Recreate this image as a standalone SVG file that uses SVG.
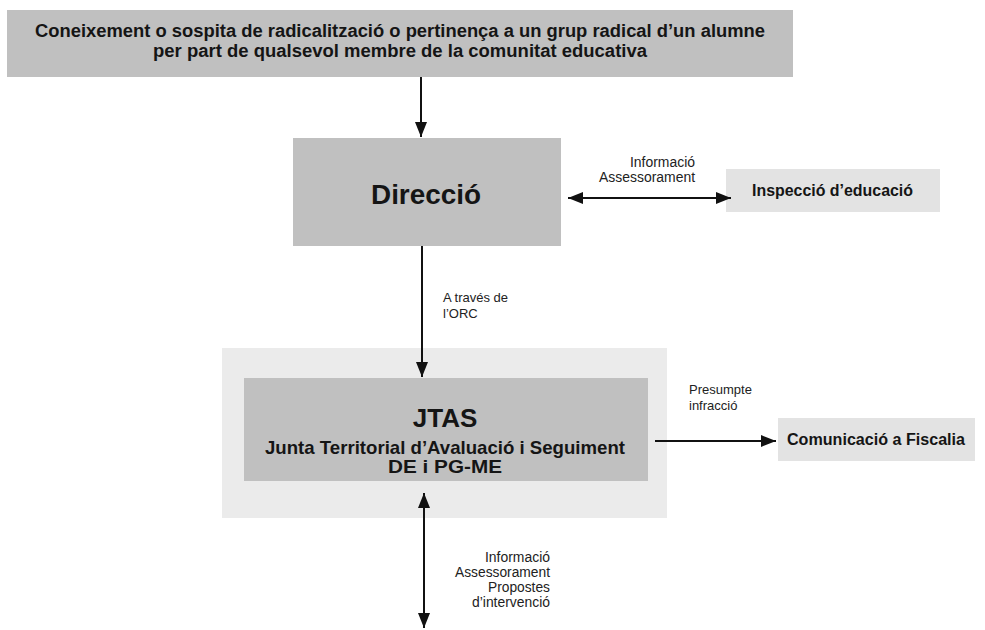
<svg xmlns="http://www.w3.org/2000/svg" width="985" height="630" viewBox="0 0 985 630">
<defs>
<marker id="ah" markerUnits="userSpaceOnUse" markerWidth="16" markerHeight="12" refX="15" refY="6" orient="auto-start-reverse">
<path d="M0,0 L15,6 L0,12 Z" fill="#111"/>
</marker>
<style>
.box{fill:#c0c0c0}
.lt{fill:#e3e3e3}
.b{font-family:"Liberation Sans",Arial,sans-serif;font-weight:bold;fill:#151515}
.s{font-family:"Liberation Sans",Arial,sans-serif;font-size:13px;fill:#222}
.n{font-family:"Liberation Sans",Arial,sans-serif;font-size:14px;fill:#222}
.ln{stroke:#111;stroke-width:2;fill:none}
</style>
</defs>
<rect width="985" height="630" fill="#fff"/>
<g id="origen">
<rect class="box" x="7" y="10" width="786" height="67"/>
<text class="b" font-size="17.5" text-anchor="middle" x="400" y="37" textLength="730" lengthAdjust="spacingAndGlyphs">Coneixement o sospita de radicalització o pertinença a un grup radical d’un alumne</text>
<text class="b" font-size="17.5" text-anchor="middle" x="400" y="57" textLength="494" lengthAdjust="spacingAndGlyphs">per part de qualsevol membre de la comunitat educativa</text>
</g>
<g id="direccio">
<rect class="box" x="293" y="138" width="268" height="108"/>
<text class="b" font-size="28" text-anchor="middle" x="426" y="204" textLength="110" lengthAdjust="spacingAndGlyphs">Direcció</text>
</g>
<g id="inspeccio">
<rect class="lt" x="726" y="169" width="214" height="43"/>
<text class="b" font-size="16" x="752" y="196" textLength="161" lengthAdjust="spacingAndGlyphs">Inspecció  d’educació</text>
</g>
<g id="jtas">
<rect x="222" y="348" width="445" height="170" fill="#ebebeb"/>
<rect class="box" x="244" y="378" width="404" height="103"/>
<text class="b" font-size="26" text-anchor="middle" x="445" y="427">JTAS</text>
<text class="b" font-size="19" text-anchor="middle" x="445" y="454" textLength="360" lengthAdjust="spacingAndGlyphs">Junta Territorial d’Avaluació i Seguiment</text>
<text class="b" font-size="19" text-anchor="middle" x="445" y="473" textLength="114" lengthAdjust="spacingAndGlyphs">DE i PG-ME</text>
</g>
<g id="fiscalia">
<rect class="lt" x="778" y="418" width="197" height="43"/>
<text class="b" font-size="16" x="787" y="445" textLength="178" lengthAdjust="spacingAndGlyphs">Comunicació a Fiscalia</text>
</g>
<g id="connectors">
<line class="ln" x1="421" y1="77" x2="421" y2="137" marker-end="url(#ah)"/>
<line class="ln" x1="568" y1="198" x2="731" y2="198" marker-start="url(#ah)" marker-end="url(#ah)"/>
<line class="ln" x1="422" y1="246" x2="422" y2="377" marker-end="url(#ah)"/>
<line class="ln" x1="655" y1="441" x2="776" y2="441" marker-end="url(#ah)"/>
<line class="ln" x1="424" y1="493" x2="424" y2="628" marker-start="url(#ah)" marker-end="url(#ah)"/>
<text class="n" text-anchor="end" x="695" y="167" textLength="65" lengthAdjust="spacingAndGlyphs">Informació</text>
<text class="n" text-anchor="end" x="695" y="182" textLength="96" lengthAdjust="spacingAndGlyphs">Assessorament</text>
<text class="s" x="443" y="302">A través de</text>
<text class="s" x="443" y="318">l’ORC</text>
<text class="s" x="689" y="394">Presumpte</text>
<text class="s" x="689" y="410">infracció</text>
<text class="n" text-anchor="end" x="550" y="562" textLength="65" lengthAdjust="spacingAndGlyphs">Informació</text>
<text class="n" text-anchor="end" x="550" y="577" textLength="95" lengthAdjust="spacingAndGlyphs">Assessorament</text>
<text class="n" text-anchor="end" x="550" y="592" textLength="62" lengthAdjust="spacingAndGlyphs">Propostes</text>
<text class="n" text-anchor="end" x="550" y="607" textLength="78" lengthAdjust="spacingAndGlyphs">d’intervenció</text>
</g>
</svg>
